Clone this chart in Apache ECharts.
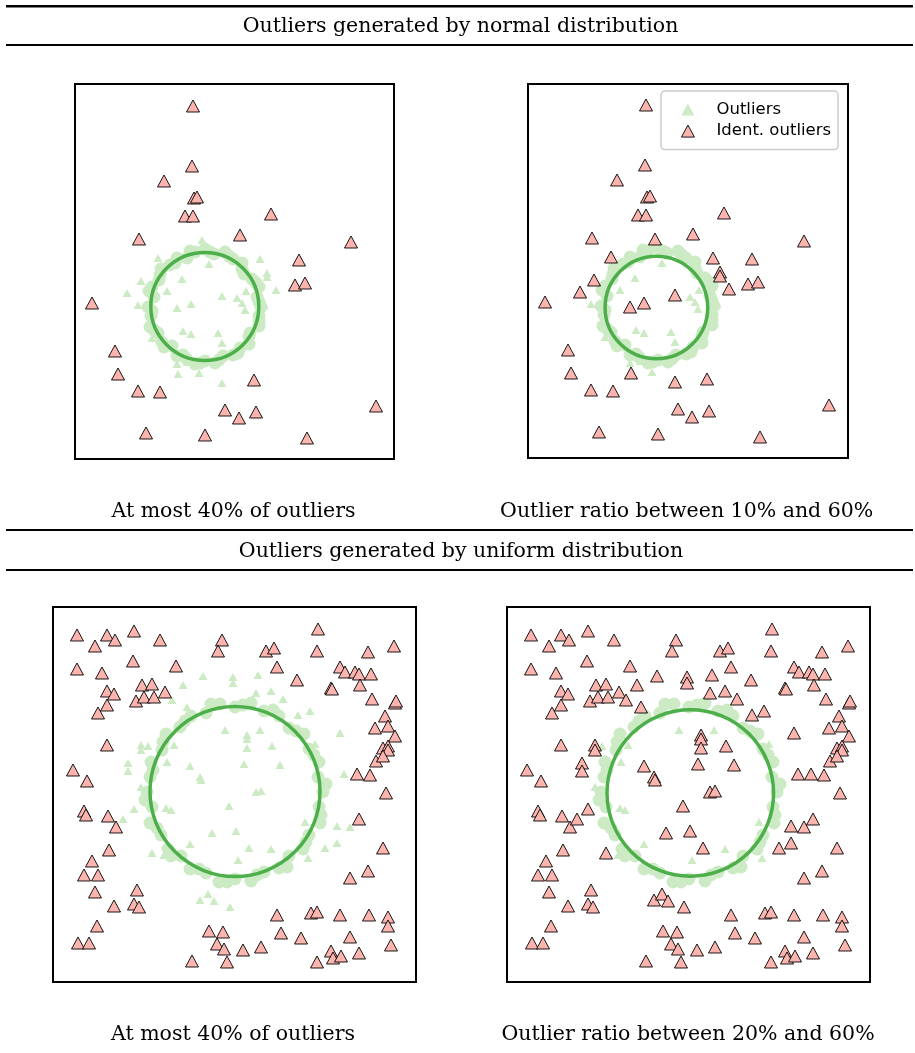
<!DOCTYPE html>
<html>
<head>
<meta charset="utf-8">
<script src="https://cdn.jsdelivr.net/npm/echarts/dist/echarts.min.js"></script>
<style>
html,body{margin:0;padding:0;background:#fff;}
#chart{width:915px;height:1053px;}
</style>
</head>
<body>
<div id="chart"></div>
<script>
// ---------------- DATA (panel-relative units, y up) ----------------
// Normal-distribution outliers (shared by panels 1 & 2)
const normalOutliers = [
  [118,353],[117,293],[89,278],[119,261],[122,262],[110,243],[118,243],[196,245],[64,220],[165,224],
  [276,217],[224,199],[220,174],[230,176],[17,156],[40,108],[43,85],[63,68],[85,67],[179,79],
  [150,49],[164,41],[181,47],[301,53],[71,26],[130,24],[232,21],
  [127,219],[83,201],[185,200],[134,195],[192,186],[192,182],[66,178],[107,180],[92,168],[201,169],
  [52,166],[171,168],[147,163],[162,161],[167,156],[63,154],[116,155],[102,151],[189,154],[170,149],
  [77,121],[108,128],[116,125],[143,126],[147,116],[102,95],[103,85],[124,86],[147,76],[112,97]
];
const normalIdent40 = [
  [118,353],[117,293],[89,278],[119,261],[122,262],[110,243],[118,243],[196,245],[64,220],[165,224],
  [276,217],[224,199],[220,174],[230,176],[17,156],[40,108],[43,85],[63,68],[85,67],[179,79],
  [150,49],[164,41],[181,47],[301,53],[71,26],[130,24],[232,21]
];
const normalIdent1060 = [
  [118,353],[117,293],[89,278],[119,261],[122,262],[110,243],[118,243],[196,245],[64,220],[165,224],
  [276,217],[224,199],[220,174],[230,176],[17,156],[40,108],[43,85],[63,68],[85,67],[179,79],
  [150,49],[164,41],[181,47],[301,53],[71,26],[130,24],[232,21],
  [127,219],[83,201],[185,200],[192,186],[192,182],[66,178],[52,166],[201,169],[147,163],[102,151],
  [116,155],[103,85],[147,76]
];
const normalInliers = [
  [186,152],[182,162],[184,172],[177,180],[169,185],[167,196],[158,200],[150,207],[139,205],[130,210],
  [120,207],[112,201],[102,201],[95,194],[86,190],[84,179],[77,172],[79,162],[73,152],[76,143],
  [75,132],[83,126],[87,117],[97,113],[102,103],[111,101],[120,95],[130,98],[140,96],[148,103],
  [158,104],[165,111],[174,115],[175,126],[184,133],[184,143],
  [184,157],[181,176],[167,190],[154,203],[135,207],[115,208],[100,196],[85,184],[74,168],[77,148],
  [79,129],[89,112],[108,104],[125,96],[144,99],[163,106],[174,122],[184,138]
];
// [centre x, centre y, radius] of the fitted circles
const circleNormal40 = [129.8, 152.5, 54];
const circleNormal1060 = [128.4, 150.5, 51.3];

// Uniform-distribution outliers (shared by panels 3 & 4)
const uniformIdent40 = [
  [24,347],[42,336],[54,347],[62,342],[81,351],[107,342],[169,342],[165,331],[213,331],[221,334],
  [265,353],[264,331],[315,330],[341,336],[24,313],[49,309],[80,321],[123,316],[224,315],[244,302],
  [287,315],[292,310],[302,310],[306,308],[318,308],[307,297],[278,294],[279,293],[54,291],[61,288],
  [89,297],[99,298],[112,290],[83,281],[91,285],[101,285],[54,277],[45,269],[319,283],[342,279],
  [343,281],[332,266],[322,254],[335,256],[342,246],[54,237],[330,234],[335,236],[335,232],[323,221],
  [330,226],[20,212],[34,201],[304,208],[317,207],[333,189],
  [31,171],[33,167],[55,166],[63,155],[56,132],[39,121],[31,107],[45,107],[42,90],[84,92],
  [81,78],[86,75],[61,76],[44,56],[25,39],[36,39],[139,21],[156,51],[170,50],[164,38],
  [171,33],[174,20],[190,32],[208,35],[224,67],[228,49],[248,44],[258,69],[264,70],[287,67],
  [316,67],[335,65],[335,56],[297,45],[278,31],[280,24],[288,26],[306,29],[264,20],[338,37],
  [306,163],[330,134],[315,111],[297,104]
];
const uniformIdentExtra2060 = [
  [150,306],[180,305],[180,299],[205,307],[130,297],[119,282],[134,275],[203,289],[218,291],[230,283],
  [245,267],[257,271],[287,249],[194,247],[194,243],[194,234],[219,236],[88,237],[88,232],[75,219],
  [75,211],[137,216],[191,218],[227,217],[147,205],[148,202],[291,208],[203,190],[208,191],
  [81,173],[70,163],[176,176],[159,149],[183,151],[196,134],[99,129],[284,156],[297,155],[272,134],
  [284,139],[147,82],[155,88],[161,81],[177,75]
];
const uniformUnflagged = [
  [172,252],[207,252],[262,238],[95,236],[114,220],[98,223],[121,237],[88,195],[137,138],[218,133],
  [185,122],[111,127],[118,172],[113,174],[252,160],[255,124]
];
const uniformInliers = [
  [270,190],[265,205],[266,220],[256,233],[251,248],[236,254],[226,266],[211,271],[198,279],[182,275],
  [167,278],[153,269],[138,266],[127,255],[113,248],[109,232],[98,220],[97,205],[94,190],[99,175],
  [97,159],[108,147],[115,133],[128,126],[137,113],[153,109],[166,100],[182,103],[198,101],[211,110],
  [226,114],[236,126],[250,133],[256,147],[267,159],[266,175],
  [273,198],[261,227],[243,251],[220,272],[190,277],[158,278],[132,261],[110,240],[100,212],[92,182],
  [104,154],[118,126],[146,113],[174,100],[204,107],[234,115],[253,140],[268,167]
];
const circleUniform40 = [182, 190.5, 85];
const circleUniform2060 = [183.3, 189, 83.3];

const titles = ['Outliers generated by normal distribution', 'Outliers generated by uniform distribution'];
const subtitles = ['At most 40% of outliers', 'Outlier ratio between 10% and 60%',
                   'At most 40% of outliers', 'Outlier ratio between 20% and 60%'];

// ---------------- CHART ----------------
const uniformOutliers = uniformIdent40.concat(uniformIdentExtra2060, uniformUnflagged);
const uniformIdent2060 = uniformIdent40.concat(uniformIdentExtra2060);

const panels = [
  {grid:{left:75, top:84, width:319, height:375}, xmax:319, ymax:375,
   inl:normalInliers, out:normalOutliers, ident:normalIdent40, circle:circleNormal40},
  {grid:{left:528, top:84, width:320, height:374}, xmax:320, ymax:374,
   inl:normalInliers, out:normalOutliers, ident:normalIdent1060, circle:circleNormal1060},
  {grid:{left:53, top:607, width:363, height:375}, xmax:363, ymax:375,
   inl:uniformInliers, out:uniformOutliers, ident:uniformIdent40, circle:circleUniform40},
  {grid:{left:507, top:607, width:363, height:375}, xmax:363, ymax:375,
   inl:uniformInliers, out:uniformOutliers, ident:uniformIdent2060, circle:circleUniform2060}
];

const LIGHT = '#ccebc5', RED = '#fbb4ae', GREEN = '#4daf4a';
const series = [];
panels.forEach((p, i) => {
  series.push({type:'scatter', name:'Inliers', xAxisIndex:i, yAxisIndex:i, data:p.inl,
    symbol:'circle', symbolSize:13, itemStyle:{color:LIGHT, opacity:1}, z:1, silent:true});
  series.push({type:'scatter', name:'Outliers', xAxisIndex:i, yAxisIndex:i, data:p.out,
    symbol:'triangle', symbolSize:[9,8], itemStyle:{color:LIGHT, opacity:1}, z:2, silent:true});
  series.push({type:'custom', name:'Circle', xAxisIndex:i, yAxisIndex:i, data:[p.circle], z:3, silent:true,
    renderItem:(params, api) => {
      const c = api.coord([api.value(0), api.value(1)]);
      const r = api.size([api.value(2), 0])[0];
      return {type:'circle', shape:{cx:c[0], cy:c[1], r:r},
              style:{fill:null, stroke:GREEN, lineWidth:3.5}};
    }});
  series.push({type:'scatter', name:'Ident. outliers', xAxisIndex:i, yAxisIndex:i, data:p.ident,
    symbol:'triangle', symbolSize:[13,12],
    itemStyle:{color:RED, borderColor:'#000', borderWidth:0.9, opacity:1}, z:4, silent:true});
});

const SERIF = '"DejaVu Serif", serif';
const FS = 20.5;
function txt(s, x, y){
  return {type:'text', x:x, y:y, silent:true,
    style:{text:s, x:0, y:0, font: FS + 'px ' + SERIF, fill:'#000',
           align:'center', textAlign:'center', verticalAlign:'middle', textVerticalAlign:'middle'}};
}
function rule(y, h){
  return {type:'rect', silent:true, shape:{x:6, y:y, width:907, height:h}, style:{fill:'#000'}};
}

const option = {
  animation:false,
  backgroundColor:'#fff',
  grid: panels.map(p => Object.assign({show:true, borderColor:'#000', borderWidth:2, backgroundColor:'#fff'}, p.grid)),
  xAxis: panels.map((p,i) => ({type:'value', gridIndex:i, min:0, max:p.xmax, show:false})),
  yAxis: panels.map((p,i) => ({type:'value', gridIndex:i, min:0, max:p.ymax, show:false})),
  legend:{
    show:true, selectedMode:false, orient:'vertical',
    data:[
      {name:'Outliers', icon:'triangle', itemStyle:{borderWidth:0}},
      {name:'Ident. outliers', icon:'triangle', itemStyle:{borderColor:'#000', borderWidth:0.9}}
    ],
    left:661, top:91,
    itemWidth:13, itemHeight:12, itemGap:4.6,
    padding:[10, 7, 10, 20],
    borderColor:'#cccccc', borderWidth:1.5, borderRadius:4,
    backgroundColor:'rgba(255,255,255,0.8)',
    textStyle:{fontFamily:'"DejaVu Sans", sans-serif', fontSize:16.5, color:'#000', padding:[0,0,0,17]}
  },
  graphic: [
    rule(5, 2.4), rule(44, 2), rule(529, 2), rule(569, 2),
    txt(titles[0], 460.5, 26.5),
    txt(subtitles[0], 233.5, 511.5),
    txt(subtitles[1], 686.7, 511.5),
    txt(titles[1], 461, 551.5),
    txt(subtitles[2], 233, 1035),
    txt(subtitles[3], 688, 1035)
  ],
  series: series
};

const chart = echarts.init(document.getElementById('chart'), null, {renderer:'canvas'});
chart.setOption(option);
</script>
</body>
</html>
